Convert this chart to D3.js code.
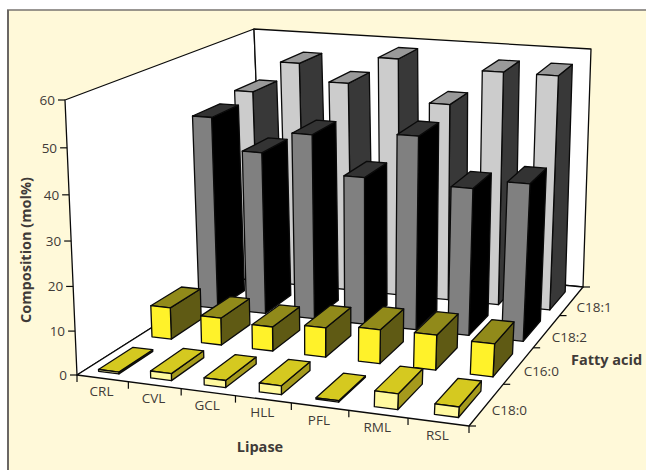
<!DOCTYPE html>
<html><head><meta charset="utf-8">
<script src="https://cdn.jsdelivr.net/npm/d3@7"></script>
<style>html,body{margin:0;padding:0;background:#fff}svg{display:block}</style>
</head><body><svg id="c" width="646" height="470"></svg>
<script>
const lipases = ["CRL","CVL","GCL","HLL","PFL","RML","RSL"];
const acids = ["C18:0","C16:0","C18:2","C18:1"];
const c180 = [0.4,1.6,1.6,2,0.3,3.5,2.3];
const c160 = [7.5,6.4,5.7,6.9,7.9,8.1,7.6];
const c182 = [46.6,39.2,44.4,35.4,46,35,37.2];
const c181 = [48.2,55.9,51.9,58.5,48.5,57,57];
const rows = [c180,c160,c182,c181];
const yTicks = [0,10,20,30,40,50,60];
const faceColors = [
  {front:"#fff9a0",top:"#d5c920",side:"#a59a1c"},
  {front:"#fff22a",top:"#918a1a",side:"#5f5a14"},
  {front:"#808080",top:"#333333",side:"#000000"},
  {front:"#cccccc",top:"#999999",side:"#383838"}
];

// Box corners on the page, floor then top: front-left, front-right, back-left, back-right.
const floorCorners=[[77,375],[469,426],[263,257],[583,287]];
const topCorners=[[65,100],[486,136],[254,29],[591,49]];
const heightBend=0.95;

function solve3(A,b){
  const det=m=>m[0][0]*(m[1][1]*m[2][2]-m[1][2]*m[2][1])-m[0][1]*(m[1][0]*m[2][2]-m[1][2]*m[2][0])+m[0][2]*(m[1][0]*m[2][1]-m[1][1]*m[2][0]);
  const d=det(A);
  return [0,1,2].map(i=>det(A.map((r,k)=>r.map((v,j)=>j===i?b[k]:v)))/d);
}
// Perspective map of the unit square onto a quadrilateral.
function quadMap([A,B,C,D]){
  const [b,c]=solve3([[B[0],C[0],-D[0]],[B[1],C[1],-D[1]],[1,1,-1]],[A[0],A[1],1]);
  return (u,v)=>{
    const h=[0,1,2].map(i=>{
      const a=i<2?A[i]:1,p=i<2?B[i]:1,q=i<2?C[i]:1;
      return a+u*(p*b-a)+v*(q*c-a);
    });
    return [h[0]/h[2],h[1]/h[2]];
  };
}
const floorMap=quadMap(floorCorners),topMap=quadMap(topCorners);
function project(x,y,z){
  const t=y*heightBend/(1+y*(heightBend-1));
  const f=floorMap(x,z),c=topMap(x,z);
  return [f[0]+t*(c[0]-f[0]),f[1]+t*(c[1]-f[1])];
}

const xScale=d3.scaleBand().domain(lipases).range([0,1]).paddingInner(0.607).paddingOuter(0.255);
const zScale=d3.scaleBand().domain(acids).range([0,1]).paddingInner(0.368).paddingOuter(0.184).align(0.4);
const yScale=d3.scaleLinear().domain([0,60]).range([0,1]);

const svg=d3.select("#c");
const poly=pts=>pts.map(p=>p.map(v=>v.toFixed(1)).join(",")).join(" ");
const ink="#0a0a0a";

svg.append("rect").attr("width",646).attr("height",470).attr("fill","#fff");
svg.append("rect").attr("x",8).attr("y",10).attr("width",640).attr("height",462).attr("fill","#fff9d9");
svg.append("line").attr("x1",7).attr("x2",646).attr("y1",10).attr("y2",10).attr("stroke","#77736f").attr("stroke-width",1.3);
svg.append("line").attr("x1",8).attr("x2",8).attr("y1",10).attr("y2",470).attr("stroke","#6b6764").attr("stroke-width",2);

// Walls and floor
const P=project;
const g=svg.append("g");
const addFace=(pts,fill)=>g.append("polygon").attr("points",poly(pts)).attr("fill",fill).attr("stroke",ink).attr("stroke-width",1.3).attr("stroke-linejoin","round");
addFace([P(0,0,0),P(0,1,0),P(0,1,1),P(0,0,1)],"#fff");
addFace([P(0,0,1),P(0,1,1),P(1,1,1),P(1,0,1)],"#fff");
addFace([P(0,0,0),P(1,0,0),P(1,0,1),P(0,0,1)],"#fff");

// Axis ticks and labels
const tick=(a,dx,dy)=>g.append("line").attr("x1",a[0]).attr("y1",a[1]).attr("x2",a[0]+dx).attr("y2",a[1]+dy).attr("stroke",ink).attr("stroke-width",1.2);
const txt=(s,x,y,anchor,opts={})=>svg.append("text").attr("x",x).attr("y",y).attr("text-anchor",anchor)
  .attr("font-family","'Open Sans',sans-serif").attr("font-size",opts.size||13.5).attr("font-weight",opts.weight||400)
  .attr("fill",opts.fill||"#3f3b38").attr("transform",opts.rotate?`rotate(${opts.rotate} ${x} ${y})`:null).text(s);

yTicks.forEach(v=>{
  const p=P(0,yScale(v),0);
  tick(p,-7,0);
  txt(v,p[0]-10,p[1]+5,"end",{size:13.5});
});
d3.range(lipases.length+1).forEach(i=>{
  tick(P(i/lipases.length,0,0),0,7);
});
lipases.forEach((l,i)=>{
  const p=P((i+0.5)/lipases.length,0,0);
  txt(l,p[0]-1,p[1]+18,"middle");
});
d3.range(acids.length+1).forEach(i=>{
  tick(P(1,0,i/acids.length),7,0);
});
acids.forEach((a,i)=>{
  const p=P(1,0,(i+0.5)/acids.length);
  txt(a,p[0]+5,p[1]+11,"start");
});
txt("Composition (mol%)",30.5,250,"middle",{size:14.5,weight:700,rotate:-90});
txt("Lipase",260,452,"middle",{size:14.5,weight:700});
txt("Fatty acid",571,365,"start",{size:14.5,weight:700});

// Bars: far row first, left to right, so nearer faces overlap
d3.range(acids.length-1,-1,-1).forEach(r=>{
  lipases.forEach((l,i)=>{
    const x0=xScale(l),x1=x0+xScale.bandwidth();
    const z0=zScale(acids[r]),z1=z0+zScale.bandwidth();
    const y1=yScale(rows[r][i]);
    const col=faceColors[r];
    const bar=svg.append("g").attr("stroke",ink).attr("stroke-width",1.3).attr("stroke-linejoin","round");
    bar.append("polygon").attr("points",poly([P(x1,0,z0),P(x1,0,z1),P(x1,y1,z1),P(x1,y1,z0)])).attr("fill",col.side);
    bar.append("polygon").attr("points",poly([P(x0,y1,z0),P(x1,y1,z0),P(x1,y1,z1),P(x0,y1,z1)])).attr("fill",col.top);
    bar.append("polygon").attr("points",poly([P(x0,0,z0),P(x1,0,z0),P(x1,y1,z0),P(x0,y1,z0)])).attr("fill",col.front);
  });
});
</script></body></html>
